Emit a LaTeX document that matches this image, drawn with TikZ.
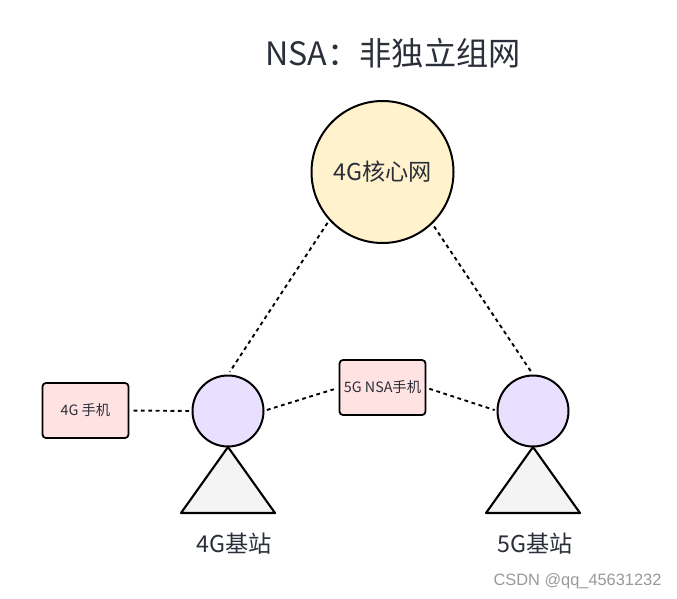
\documentclass[tikz,border=0pt]{standalone}
\usepackage{fontspec}
\setmainfont{Noto Sans CJK SC}
\newfontfamily\wmfont{Liberation Sans}
\definecolor{inkdark}{HTML}{2A2F3A}
\definecolor{corefill}{HTML}{FFF2CC}
\definecolor{stationfill}{HTML}{E9E0FF}
\definecolor{phonefill}{HTML}{FFE2E2}
\definecolor{towerfill}{HTML}{F4F4F4}
\tikzset{
  x=1pt,y=-1pt,
  circ/.style={circle,draw=black,line width=2pt,inner sep=0pt,outer sep=0pt},
  phone/.style={rectangle,rounded corners=3.5pt,draw=black,line width=1.8pt,fill=phonefill,minimum width=86pt,minimum height=55pt,inner sep=0pt,outer sep=0pt,text=inkdark,font=\fontsize{14.3pt}{16pt}\selectfont},
  lbl/.style={text=inkdark,inner sep=0pt},
  link/.style={line width=1.9pt,dash pattern=on 3.8pt off 3.6pt,draw=black},
  tower/.style={draw=black,line width=2.1pt,fill=towerfill,line join=round}
}
\begin{document}
\begin{tikzpicture}
\useasboundingbox (0,0) rectangle (677,599);
\fill[white] (0,0) rectangle (677,599);
\node[lbl,font=\fontsize{32.2pt}{38pt}\selectfont] (title) at (393,53) {NSA：非独立组网};
\node[circ,fill=corefill,minimum size=142pt,font=\fontsize{23.2pt}{28pt}\selectfont,text=inkdark] (core) at (382.5,172) {4G核心网};
\node[circ,fill=stationfill,minimum size=71pt] (sa) at (228,411) {};
\node[circ,fill=stationfill,minimum size=71pt] (sb) at (533,411) {};
\coordinate (ta) at (228,447);
\coordinate (tal) at (181,513);
\coordinate (tar) at (275,513);
\coordinate (tb) at (533,447);
\coordinate (tbl) at (486,513);
\coordinate (tbr) at (580,513);
\draw[tower] (ta) -- (tal) -- (tar) -- cycle;
\draw[tower] (tb) -- (tbl) -- (tbr) -- cycle;
\node[phone] (pa) at (85.5,410.5) {4G 手机};
\node[phone] (pb) at (382.5,387.5) {5G NSA手机};
\node[lbl,font=\fontsize{23.2pt}{28pt}\selectfont] (la) at (234,544) {4G基站};
\node[lbl,font=\fontsize{23.2pt}{28pt}\selectfont] (lb) at (535,544) {5G基站};
\node[inner sep=0pt,text=black!40,font=\wmfont\fontsize{16.4pt}{18pt}\selectfont] (wm) at (577.5,581) {CSDN @qq\_45631232};
\draw[link,shorten <=4pt,shorten >=4.5pt] (core.222.6) -- (sa.91);
\draw[link,shorten <=4pt,shorten >=4.5pt] (core.314) -- (sb.89);
\draw[link,shorten <=5pt,shorten >=3.5pt] (pa.east) -- (sa.west);
\draw[link,shorten <=3.5pt,shorten >=6pt] (sa.east) -- (pb.west);
\draw[link,shorten <=4pt,shorten >=3pt] (pb.east) -- (sb.west);
\end{tikzpicture}
\end{document}
